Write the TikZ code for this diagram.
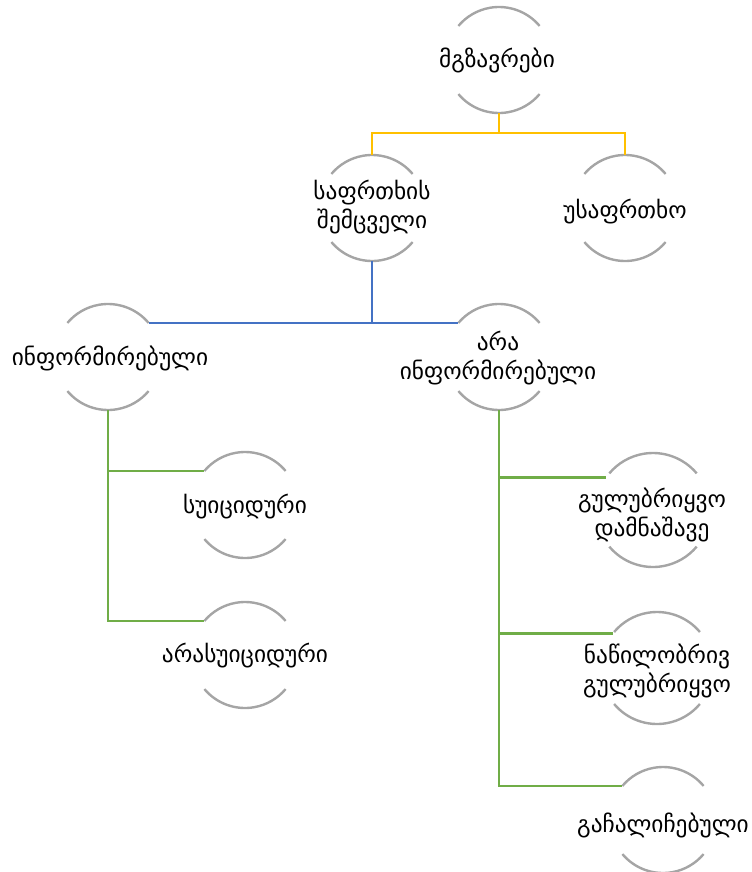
\documentclass[tikz,border=0pt]{standalone}
\usepackage{fontspec}
\setmainfont{DejaVu Sans}
\definecolor{arcgray}{HTML}{A5A5A5}
\definecolor{ylw}{HTML}{FFC000}
\definecolor{blu}{HTML}{4472C4}
\definecolor{grn}{HTML}{70AD47}
\begin{document}
\begin{tikzpicture}[x=0.75pt,y=-0.75pt,
  ring/.style={circle,draw=none,inner sep=0pt,outer sep=0pt,minimum size=#1},
  arcline/.style={draw=arcgray,line width=1.8pt},
  lbl/.style={font=\fontsize{17.5}{22}\selectfont,align=center,inner sep=0pt},
  conn/.style={line width=2pt}]
\useasboundingbox (0,0) rectangle (751,872);
% circles
\node[ring=79.5pt] (c1) at (499,60) {};
\node[ring=79.5pt] (c2) at (372,208) {};
\node[ring=79.5pt] (c3) at (625,208) {};
\node[ring=79.5pt] (c4) at (108,357) {};
\node[ring=79.5pt] (c5) at (499,357) {};
\node[ring=79.5pt] (c6) at (245,505) {};
\node[ring=79.5pt] (c7) at (245,655) {};
\node[ring=85.5pt] (c8) at (653,510) {};
\node[ring=84pt] (c9) at (657,668) {};
\node[ring=79.5pt] (c10) at (663,820) {};
\foreach \n/\r in {c1/39.75pt,c2/39.75pt,c3/39.75pt,c4/39.75pt,c5/39.75pt,c6/39.75pt,c7/39.75pt,c8/42.75pt,c9/42pt,c10/39.75pt}{
  \draw[arcline] (\n.40) arc[start angle=40,end angle=140,radius=\r];
  \draw[arcline] (\n.220) arc[start angle=220,end angle=320,radius=\r];
}
% labels
\node[lbl] (t1) at (497,60) {მგზავრები};
\node[lbl] (t2) at (372,207) {საფრთხის\\შემცველი};
\node[lbl] (t3) at (625,212) {უსაფრთხო};
\node[lbl] (t4) at (110,358) {ინფორმირებული};
\node[lbl] (t5) at (498,358) {არა\\ინფორმირებული};
\node[lbl] (t6) at (245,507) {სუიციდური};
\node[lbl] (t7) at (245,656) {არასუიციდური};
\node[lbl] (t8) at (652,515) {გულუბრიყვო\\დამნაშავე};
\node[lbl] (t9) at (657,671) {ნაწილობრივ\\გულუბრიყვო};
\node[lbl] (t10) at (663,825) {გაჩალიჩებული};
% connectors
\coordinate (j1) at (499,133);
\coordinate (j2) at (372,323);
\draw[conn,ylw] (c1.south) -- (j1);
\draw[conn,ylw] (c2.north) |- (j1) -| (c3.north);
\draw[conn,blu] (c2.south) -- (j2);
\draw[conn,blu] (c4.40) -- (c5.140);
\draw[conn,grn] (c4.south) |- (c6.140);
\draw[conn,grn] (c4.south) |- (c7.140);
\draw[conn,grn] (c5.south) |- (c8.145);
\draw[conn,grn] (c5.south) |- (c9.142);
\draw[conn,grn] (c5.south) |- (c10.140);
\end{tikzpicture}
\end{document}
